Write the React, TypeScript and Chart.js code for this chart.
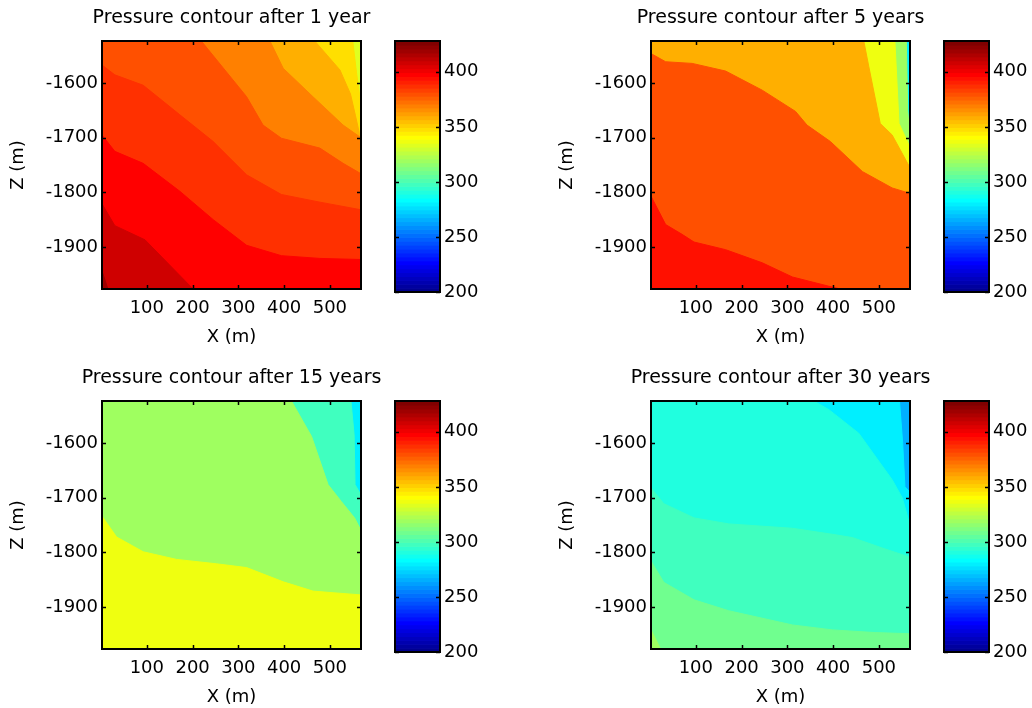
import React, { useEffect, useRef } from 'react';
import { Chart, registerables } from 'chart.js';

Chart.register(...registerables);

type Pt = [number, number];

const FONT = 'DejaVu Sans';
const FONT_SIZE = 18;
const TITLE_SIZE = 19;

// axis limits
const XMIN = 2;
const XMAX = 568;
const ZMIN = -1977;
const ZMAX = -1523;
const X_STEP = 100;
const Z_STEP = 100;
const CBAR_MIN = 200;
const CBAR_MAX = 428;
const CBAR_STEP = 50;

const titles = [
  'Pressure contour after 1 year',
  'Pressure contour after 5 years',
  'Pressure contour after 15 years',
  'Pressure contour after 30 years',
];

// ---------- After 1 year: contour lines (top-right to bottom-left), colour of the band below each
const y1Base = '#dfff20';
const y1Colors = ['#ffdf00', '#ffaf00', '#ff8000', '#ff5000', '#ff3000', '#ff0000', '#cf0000', '#9f0000'];
const y1L1: Pt[] = [[XMIN, ZMAX], [550, ZMAX], [558, -1580], [563, -1610], [568, -1640]];
const y1L2: Pt[] = [[XMIN, ZMAX], [467, ZMAX], [522, -1576], [545, -1620], [556, -1660], [564, -1690], [568, -1725]];
const y1L3: Pt[] = [[XMIN, ZMAX], [369, ZMAX], [398, -1573], [463, -1625], [529, -1677], [568, -1700]];
const y1L4: Pt[] = [[XMIN, ZMAX], [219, ZMAX], [318, -1625], [354, -1677], [394, -1701], [478, -1719], [529, -1747], [568, -1766]];
const y1L5: Pt[] = [[XMIN, -1567], [30, -1585], [92, -1604], [172, -1658], [245, -1707], [318, -1768], [394, -1804], [478, -1818], [568, -1832]];
const y1L6: Pt[] = [[XMIN, -1695], [30, -1725], [92, -1747], [172, -1798], [245, -1850], [318, -1897], [394, -1916], [478, -1921], [568, -1923]];
const y1L7: Pt[] = [[XMIN, -1821], [30, -1861], [96, -1887], [201, ZMIN], [XMAX, ZMIN]];
const y1L8: Pt[] = [[XMIN, -1944], [15, ZMIN], [XMAX, ZMIN]];

// ---------- After 5 years
const y5Base = '#00efff';
const y5Colors = ['#9fff60', '#efff10', '#ffaf00', '#ff5000', '#ff1000'];
const y5L1: Pt[] = [[XMIN, ZMAX], [560, ZMAX], [563, -1650], [568, -1700]];
const y5L2: Pt[] = [[XMIN, ZMAX], [535, ZMAX], [544, -1674], [564, -1710], [568, -1720]];
const y5L3: Pt[] = [[XMIN, ZMAX], [467, ZMAX], [478, -1570], [503, -1674], [529, -1695], [568, -1755]];
const y5L4: Pt[] = [[XMIN, -1546], [34, -1561], [92, -1564], [165, -1578], [245, -1613], [318, -1652], [343, -1677], [394, -1707], [464, -1762], [529, -1792], [568, -1802]];
const y5L5: Pt[] = [[XMIN, -1807], [34, -1859], [70, -1877], [96, -1891], [165, -1905], [245, -1929], [311, -1955], [391, -1972], [416, ZMIN], [XMAX, ZMIN]];

// ---------- After 15 years
const y15Base = '#00efff';
const y15Colors = ['#40ffbf', '#9fff60', '#efff10'];
const y15L1: Pt[] = [[XMIN, ZMAX], [546, ZMAX], [553, -1585], [555, -1676], [568, -1695]];
const y15L2: Pt[] = [[XMIN, ZMAX], [416, ZMAX], [460, -1588], [496, -1676], [525, -1707], [554, -1737], [568, -1760]];
const y15L3: Pt[] = [[XMIN, -1734], [34, -1772], [92, -1799], [165, -1813], [252, -1821], [318, -1828], [398, -1854], [463, -1871], [507, -1874], [568, -1878]];

// ---------- After 30 years
const y30Base = '#00afff';
const y30Colors = ['#00efff', '#20ffdf', '#40ffbf', '#70ff8f', '#9fff60'];
const y30L1: Pt[] = [[XMIN, ZMAX], [545, ZMAX], [552, -1600], [557, -1680], [568, -1690]];
const y30L2: Pt[] = [[XMIN, ZMAX], [358, ZMAX], [391, -1539], [456, -1582], [529, -1667], [551, -1700], [568, -1750]];
const y30L3: Pt[] = [[XMIN, -1682], [30, -1711], [96, -1737], [172, -1748], [311, -1756], [398, -1767], [442, -1773], [507, -1792], [568, -1809]];
const y30L4: Pt[] = [[XMIN, -1816], [30, -1855], [96, -1887], [172, -1907], [311, -1933], [398, -1942], [493, -1947], [568, -1949]];
const y30L5: Pt[] = [[XMIN, -1942], [23, ZMIN], [XMAX, ZMIN]];

function jet(i: number): string {
  const r = i < 24 ? 0 : i < 40 ? (i - 23) / 16 : i < 56 ? 1 : 1 - (i - 55) / 16;
  const g = i < 8 ? 0 : i < 24 ? (i - 7) / 16 : i < 40 ? 1 : i < 56 ? 1 - (i - 39) / 16 : 0;
  const b = i < 8 ? 0.5 + (i + 1) / 16 : i < 24 ? 1 : i < 40 ? 1 - (i - 23) / 16 : 0;
  const h = (v: number) => Math.round(Math.max(0, Math.min(1, v)) * 255).toString(16).padStart(2, '0');
  return '#' + h(r) + h(g) + h(b);
}

const framePlugin = {
  id: 'frameTicks',
  afterDraw(chart: any, _args: any, opts: any) {
    const { ctx, chartArea: a } = chart;
    const len = 4;
    ctx.save();
    const ys = chart.scales.y;
    if (opts && opts.gradient) {
      const n = 64;
      for (let i = 0; i < n; i++) {
        const v0 = ys.min + (i * (ys.max - ys.min)) / n;
        const v1 = ys.min + ((i + 1) * (ys.max - ys.min)) / n;
        const p0 = ys.getPixelForValue(v0);
        const p1 = ys.getPixelForValue(v1);
        ctx.fillStyle = jet(i);
        ctx.fillRect(a.left, p1, a.right - a.left, p0 - p1 + 0.7);
      }
    }
    ctx.strokeStyle = '#000';
    ctx.lineWidth = 1.5;
    ctx.beginPath();
    const xs = chart.scales.x;
    if (xs && xs.options.display) {
      for (const t of xs.ticks) {
        const p = Math.round(xs.getPixelForValue(t.value)) + 0.5;
        ctx.moveTo(p, a.bottom);
        ctx.lineTo(p, a.bottom - len);
        ctx.moveTo(p, a.top);
        ctx.lineTo(p, a.top + len);
      }
    }
    for (const t of ys.ticks) {
      const p = Math.round(ys.getPixelForValue(t.value)) + 0.5;
      ctx.moveTo(a.left, p);
      ctx.lineTo(a.left + len, p);
      ctx.moveTo(a.right, p);
      ctx.lineTo(a.right - len, p);
    }
    ctx.stroke();
    ctx.lineWidth = 2;
    ctx.strokeRect(a.left, a.top, a.right - a.left, a.bottom - a.top);
    ctx.restore();
  },
};

const font = { family: FONT, size: FONT_SIZE, weight: 'normal' as const };
const titleFont = { family: FONT, size: TITLE_SIZE, weight: 'normal' as const };

interface PanelProps {
  left: number;
  top: number;
  title: string;
  base: string;
  colors: string[];
  lines: Pt[][];
}

// main canvas is symmetric around the plot area so the title centres over it
const MAIN_W = 463;
const MAIN_H = 354;
const BAR_W = 136;

function Panel({ left, top, title, base, colors, lines }: PanelProps) {
  const mainRef = useRef<HTMLCanvasElement>(null);
  const barRef = useRef<HTMLCanvasElement>(null);

  useEffect(() => {
    const paint = [
      { color: base, pts: [[XMIN, ZMAX], [XMAX, ZMAX]] as Pt[] },
      ...lines.map((l, i) => ({ color: colors[i], pts: l })),
    ];
    const datasets = paint
      .slice()
      .reverse()
      .map((p) => ({
        data: p.pts.map(([x, y]) => ({ x, y })),
        fill: 'start',
        backgroundColor: p.color,
        borderColor: p.color,
        borderWidth: 1,
        pointRadius: 0,
        pointHoverRadius: 0,
        tension: 0,
      }));

    const main = new Chart(mainRef.current as HTMLCanvasElement, {
      type: 'line',
      data: { datasets: datasets as any },
      options: {
        responsive: false,
        animation: false,
        events: [],
        layout: { padding: 0 },
        plugins: {
          legend: { display: false },
          tooltip: { enabled: false },
          title: {
            display: true,
            text: title,
            fullSize: true,
            color: '#000',
            font: titleFont,
            padding: { top: 7, bottom: 11.2 },
          },
          frameTicks: { gradient: false },
        } as any,
        scales: {
          x: {
            type: 'linear',
            position: 'bottom',
            min: XMIN,
            max: XMAX,
            grid: { display: false, drawTicks: false },
            border: { display: false },
            ticks: {
              stepSize: X_STEP,
              includeBounds: false,
              autoSkip: false,
              maxRotation: 0,
              color: '#000',
              font,
              padding: 9,
              callback: (v: any) => String(v),
            },
            title: { display: true, text: 'X (m)', color: '#000', font, padding: { top: 0, bottom: 6 } },
            afterFit: (s: any) => {
              s.height = 65;
              s.paddingLeft = 0;
              s.paddingRight = 0;
            },
          },
          y: {
            type: 'linear',
            position: 'left',
            min: ZMIN,
            max: ZMAX,
            grid: { display: false, drawTicks: false },
            border: { display: false },
            ticks: {
              stepSize: Z_STEP,
              includeBounds: false,
              autoSkip: false,
              color: '#000',
              font,
              padding: 4,
              callback: (v: any) => String(v),
            },
            title: { display: true, text: 'Z (m)', color: '#000', font, padding: { top: 8, bottom: 0 } },
            afterFit: (s: any) => {
              s.width = 102;
              s.paddingTop = 0;
              s.paddingBottom = 0;
            },
          },
          // empty right-hand spacer so the plot sits centred under the title
          yr: {
            type: 'linear',
            position: 'right',
            grid: { display: false, drawTicks: false },
            border: { display: false },
            ticks: { display: false },
            afterFit: (s: any) => {
              s.width = 102;
              s.paddingTop = 0;
              s.paddingBottom = 0;
            },
          },
        } as any,
      },
      plugins: [framePlugin],
    });

    const bar = new Chart(barRef.current as HTMLCanvasElement, {
      type: 'line',
      data: { datasets: [] },
      options: {
        responsive: false,
        animation: false,
        events: [],
        layout: { padding: { left: 15, right: 0, top: 41, bottom: 62 } },
        plugins: {
          legend: { display: false },
          tooltip: { enabled: false },
          frameTicks: { gradient: true },
        } as any,
        scales: {
          x: { type: 'linear', display: false, min: 0, max: 1 },
          y: {
            type: 'linear',
            position: 'right',
            min: CBAR_MIN,
            max: CBAR_MAX,
            grid: { display: false, drawTicks: false },
            border: { display: false },
            ticks: {
              stepSize: CBAR_STEP,
              includeBounds: false,
              autoSkip: false,
              color: '#000',
              font,
              padding: 4,
              callback: (v: any) => String(v),
            },
            afterFit: (s: any) => {
              s.width = 76;
              s.paddingTop = 0;
              s.paddingBottom = 0;
            },
          },
        } as any,
      },
      plugins: [framePlugin],
    });

    return () => {
      main.destroy();
      bar.destroy();
    };
  }, []);

  return (
    <>
      <canvas
        ref={mainRef}
        width={MAIN_W}
        height={MAIN_H}
        style={{ position: 'absolute', left, top, width: MAIN_W, height: MAIN_H }}
      />
      <canvas
        ref={barRef}
        width={BAR_W}
        height={MAIN_H}
        style={{ position: 'absolute', left: left + 380, top, width: BAR_W, height: MAIN_H }}
      />
    </>
  );
}

export default function App() {
  return (
    <div
      style={{
        position: 'absolute',
        left: 0,
        top: 0,
        width: 1032,
        height: 708,
        overflow: 'hidden',
        background: '#fff',
      }}
    >
      <Panel left={0} top={0} title={titles[0]} base={y1Base} colors={y1Colors} lines={[y1L1, y1L2, y1L3, y1L4, y1L5, y1L6, y1L7, y1L8]} />
      <Panel left={549} top={0} title={titles[1]} base={y5Base} colors={y5Colors} lines={[y5L1, y5L2, y5L3, y5L4, y5L5]} />
      <Panel left={0} top={360} title={titles[2]} base={y15Base} colors={y15Colors} lines={[y15L1, y15L2, y15L3]} />
      <Panel left={549} top={360} title={titles[3]} base={y30Base} colors={y30Colors} lines={[y30L1, y30L2, y30L3, y30L4, y30L5]} />
    </div>
  );
}
